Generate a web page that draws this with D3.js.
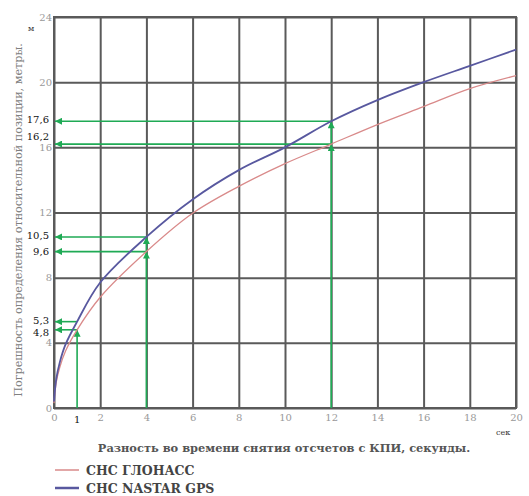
<!DOCTYPE html>
<html>
<head>
<meta charset="utf-8">
<script src="https://cdn.jsdelivr.net/npm/d3@7"></script>
<style>
  body { margin: 0; background: #fff; }
</style>
</head>
<body>
<svg id="svg1" width="529" height="496" font-family="'DejaVu Serif', 'Liberation Serif', serif"></svg>
<script>
// values
var times = [0, 0.1, 0.25, 0.5, 1, 2, 4, 6, 8, 10, 12, 14, 16, 18, 20];
var glonass = [0.3, 1.6, 2.5, 3.5, 4.8, 6.8, 9.6, 11.95, 13.6, 15.0, 16.2, 17.4, 18.5, 19.6, 20.4];
var gps = [0.4, 1.8, 2.8, 3.9, 5.3, 7.7, 10.5, 12.8, 14.6, 16.0, 17.6, 18.9, 20.0, 21.0, 22.0];
var xTicks = [0, 2, 4, 6, 8, 10, 12, 14, 16, 18, 20];
var yTicks = [0, 4, 8, 12, 16, 20, 24];
var markX = [1, 4, 12];
var markLow = [4.8, 9.6, 16.2];
var markHigh = [5.3, 10.5, 17.6];
var seriesNames = ["СНС ГЛОНАСС", "СНС NASTAR GPS"];

var svg = d3.select("#svg1"),
    margin = {top: 17, right: 13, bottom: 88, left: 54},
    width = +svg.attr("width") - margin.left - margin.right,
    height = +svg.attr("height") - margin.top - margin.bottom,
    g = svg.append("g").attr("transform", "translate(" + margin.left + "," + margin.top + ")");

var x = d3.scaleLinear().domain([0, 20]).range([0, width]);
var y = d3.scaleLinear().domain([0, 24]).range([height, 0]);

var green = "#1faa55";

svg.append("defs").append("marker")
    .attr("id", "arr")
    .attr("viewBox", "0 0 10 10")
    .attr("refX", 10).attr("refY", 5)
    .attr("markerWidth", 9).attr("markerHeight", 7)
    .attr("markerUnits", "userSpaceOnUse")
    .attr("orient", "auto")
  .append("path")
    .attr("d", "M0,0 L10,5 L0,10 Z")
    .attr("fill", green);

// grid via axes
g.append("g")
    .attr("class", "x axis")
    .attr("transform", "translate(0," + height + ")")
    .call(d3.axisBottom(x).tickValues(xTicks).tickSizeInner(-height).tickSizeOuter(0).tickPadding(6).tickFormat(d3.format("d")));

g.append("g")
    .attr("class", "y axis")
    .call(d3.axisLeft(y).tickValues(yTicks).tickSizeInner(-width).tickSizeOuter(0).tickPadding(2).tickFormat(d3.format("d")));

g.selectAll(".axis").attr("font-family", null);
g.selectAll(".axis .domain").remove();
g.selectAll(".axis line").attr("stroke", "#5a5a5a").attr("stroke-width", 2);
g.selectAll(".axis text").attr("fill", "#999").attr("font-size", 10);
g.selectAll(".y.axis text").attr("dy", "0.3em");

// frame
g.append("rect")
    .attr("x", 0).attr("y", 0)
    .attr("width", width).attr("height", height)
    .attr("fill", "none").attr("stroke", "#5a5a5a").attr("stroke-width", 2);

// green guides
markX.forEach(function(t, i) {
  g.append("line")
      .attr("x1", x(t)).attr("x2", x(t))
      .attr("y1", y(0)).attr("y2", y(markLow[i]))
      .attr("stroke", green).attr("stroke-width", 1.6)
      .attr("marker-end", "url(#arr)");
  if (t > 1) {
    g.append("line")
        .attr("x1", x(t)).attr("x2", x(t))
        .attr("y1", y(markLow[i])).attr("y2", y(markHigh[i]))
        .attr("stroke", green).attr("stroke-width", 1.6)
        .attr("marker-end", "url(#arr)");
  }
  [markLow[i], markHigh[i]].forEach(function(v, j) {
    g.append("line")
        .attr("x1", x(t)).attr("x2", x(0) + 1)
        .attr("y1", y(v)).attr("y2", y(v))
        .attr("stroke", green).attr("stroke-width", 1.6)
        .attr("marker-end", "url(#arr)");
    g.append("text")
        .attr("x", -5).attr("y", y(v))
        .attr("dy", j === 0 ? (t === 12 ? "-0.45em" : (t === 1 ? "0.6em" : "0.3em")) : "0.2em")
        .attr("text-anchor", "end")
        .attr("font-size", 10)
        .attr("fill", "#111")
        .text(String(v).replace(".", ","));
  });
});

// label "1" on x axis
g.append("text")
    .attr("x", x(1)).attr("y", height + 15)
    .attr("text-anchor", "middle")
    .attr("font-size", 10).attr("fill", "#111")
    .text("1");

var line = d3.line()
    .x(function(d) { return x(d[0]); })
    .y(function(d) { return y(d[1]); })
    .curve(d3.curveCatmullRom.alpha(0.5));

var colors = ["#d98a8a", "#58589f"];
var widths = [1.3, 1.8];
[glonass, gps].forEach(function(s, k) {
  g.append("path")
      .datum(times.map(function(t, i) { return [t, s[i]]; }))
      .attr("fill", "none")
      .attr("stroke", colors[k])
      .attr("stroke-width", widths[k])
      .attr("d", line);
});

// units
svg.append("text").attr("x", 28).attr("y", 31).attr("font-size", 8).attr("fill", "#333").text("м");
svg.append("text").attr("x", 496).attr("y", 435).attr("font-size", 8).attr("fill", "#333").text("сек");

// axis titles
svg.append("text")
    .attr("x", 284).attr("y", 452)
    .attr("text-anchor", "middle")
    .attr("font-size", 11.4).attr("font-weight", "bold").attr("fill", "#555")
    .text("Разность во времени снятия отсчетов с КПИ, секунды.");

svg.append("text")
    .attr("transform", "translate(22,220) rotate(-90)")
    .attr("text-anchor", "middle")
    .attr("font-size", 11.2).attr("fill", "#808080")
    .text("Погрешность определения относительной позиции, метры.");

// legend
seriesNames.forEach(function(name, k) {
  var ly = 470 + k * 18;
  svg.append("line")
      .attr("x1", 55).attr("x2", 79)
      .attr("y1", ly).attr("y2", ly)
      .attr("stroke", colors[k]).attr("stroke-width", k ? 2.5 : 1.5);
  svg.append("text")
      .attr("x", 86).attr("y", ly + 5)
      .attr("font-size", 12.5).attr("font-weight", "bold").attr("fill", "#444")
      .text(name);
});
</script>
</body>
</html>
